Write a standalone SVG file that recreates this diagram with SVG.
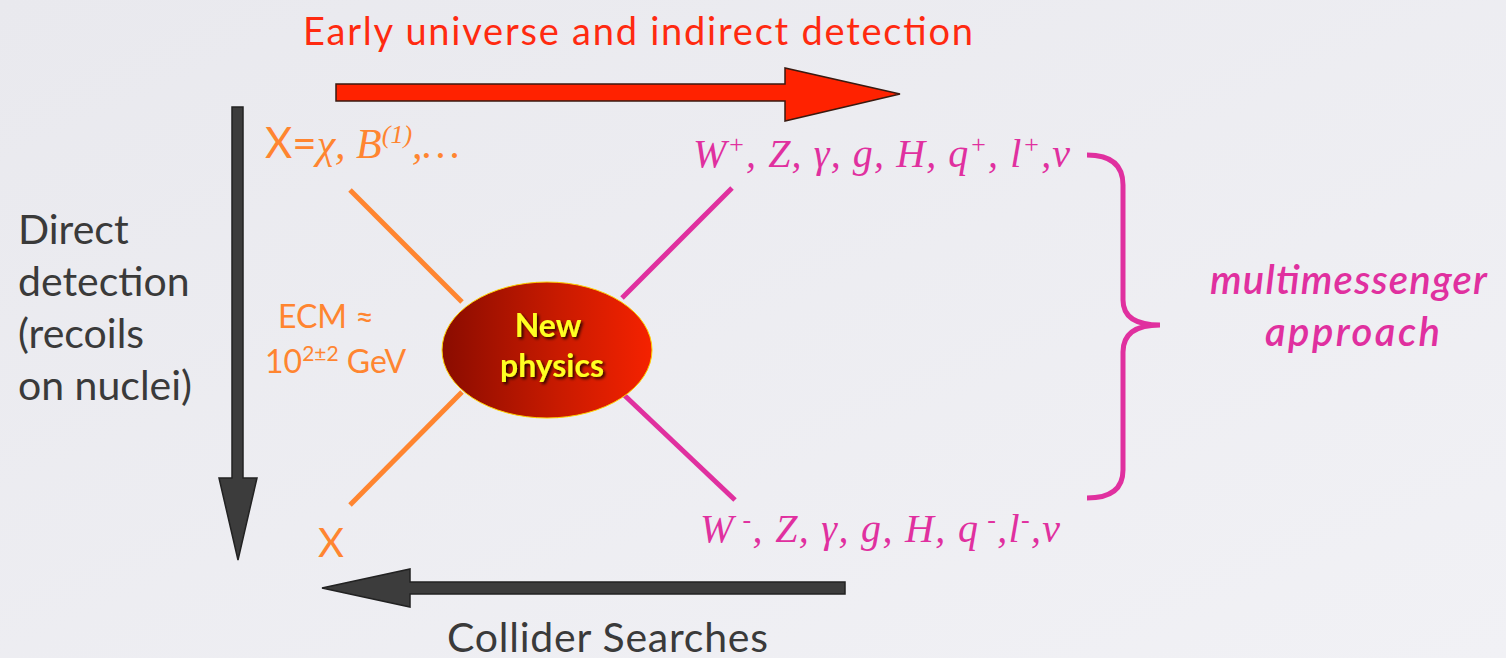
<svg xmlns="http://www.w3.org/2000/svg" width="1506" height="658" viewBox="0 0 1506 658">
<defs>
<linearGradient id="bg" x1="0" y1="0" x2="1" y2="1">
<stop offset="0" stop-color="#e9e9ee"/>
<stop offset="1" stop-color="#f1f1f5"/>
</linearGradient>
<linearGradient id="ell" x1="0" y1="0" x2="1" y2="0">
<stop offset="0" stop-color="#8a0c00"/>
<stop offset="0.55" stop-color="#c81a00"/>
<stop offset="1" stop-color="#f52200"/>
</linearGradient>
<filter id="sh" x="-20%" y="-20%" width="140%" height="140%">
<feDropShadow dx="2" dy="2" stdDeviation="1.5" flood-color="#000" flood-opacity="0.8"/>
</filter>
</defs>
<style>
.sans{font-family:Lato,"Open Sans","Liberation Sans",sans-serif}
.dark{fill:#3a3a3a}
.or{fill:#ff8530}
.mag{fill:#e0309f}
.ital{font-family:"Liberation Serif","DejaVu Serif",serif;font-style:italic}
.orl{stroke:#ff8530;stroke-width:5;fill:none}
.mgl{stroke:#e0309f;stroke-width:5;fill:none}
.arrD{fill:#3c3c3c;stroke:#222;stroke-width:1.5}
</style>
<rect width="1506" height="658" fill="url(#bg)"/>

<text class="sans" x="303" y="45" font-size="38" fill="#ff2a10" textLength="670">Early universe and indirect detection</text>

<g id="connectors">
<path d="M336,84 H785 V68 L900,94 L785,121 V101 H336 Z" fill="#ff2200" stroke="#3a1a10" stroke-width="1.5"/>
<path d="M232,107 H243 V478 H257 L238,560 L219,478 H232 Z" class="arrD"/>
<path d="M845,582 H410 V569 L322,588 L410,607 V594 H845 Z" class="arrD"/>
<line class="orl" x1="350" y1="190" x2="462" y2="302"/>
<line class="orl" x1="462" y1="392" x2="350" y2="505"/>
<line class="mgl" x1="732" y1="188" x2="622" y2="298"/>
<line class="mgl" x1="622" y1="393" x2="735" y2="500"/>
</g>

<g id="brace">
<path d="M1087,155 Q1123,155 1123,185 V300 Q1123,325 1160,325 Q1123,325 1123,352 V470 Q1123,498 1087,498" class="mgl"/>
</g>

<g id="newphysics">
<ellipse cx="547" cy="350" rx="105" ry="68" fill="url(#ell)" stroke="#ffd000" stroke-width="1"/>
<g filter="url(#sh)" class="sans" font-size="32" font-weight="bold" fill="#ffff20" text-anchor="middle">
<text x="548" y="337">New</text>
<text x="552" y="377">physics</text>
</g>
</g>

<g id="x-top">
<text x="265" y="158" font-size="42"><tspan class="sans or">X=</tspan><tspan class="ital or">χ, B</tspan><tspan class="ital or" font-size="26" dy="-15">(1)</tspan><tspan class="ital or" dy="15">,…</tspan></text>
</g>

<g id="ecm" class="sans or" font-size="32">
<text x="278" y="328">ECM ≈</text>
<text x="265" y="373">10<tspan font-size="21" dy="-12">2±2</tspan><tspan dy="12"> GeV</tspan></text>
</g>

<g id="x-bottom">
<text class="sans or" x="318" y="557" font-size="40">X</text>
</g>

<g id="direct" class="sans dark" font-size="41">
<text x="18" y="244">Direct</text>
<text x="18" y="296">detection</text>
<text x="18" y="348">(recoils</text>
<text x="18" y="400">on nuclei)</text>
</g>

<g id="products-top">
<text class="ital mag" x="693" y="167" font-size="40" textLength="377">W<tspan font-size="26" dy="-14">+</tspan><tspan dy="14">, Z, γ, g, H, q</tspan><tspan font-size="26" dy="-14">+</tspan><tspan dy="14">, l</tspan><tspan font-size="26" dy="-14">+</tspan><tspan dy="14">,ν</tspan></text>
</g>

<g id="products-bottom">
<text class="ital mag" x="700" y="542" font-size="40" textLength="360">W<tspan font-size="26" dy="-14"> -</tspan><tspan dy="14">, Z, γ, g, H, q</tspan><tspan font-size="26" dy="-14"> -</tspan><tspan dy="14">,l</tspan><tspan font-size="26" dy="-14">-</tspan><tspan dy="14">,ν</tspan></text>
</g>

<g id="multimessenger" class="sans mag" font-size="40" font-style="italic" font-weight="600">
<text x="1210" y="294" textLength="277">multimessenger</text>
<text x="1265" y="346" textLength="175">approach</text>
</g>

<g id="collider">
<text class="sans dark" x="447" y="652" font-size="41" textLength="321">Collider Searches</text>
</g>
</svg>
